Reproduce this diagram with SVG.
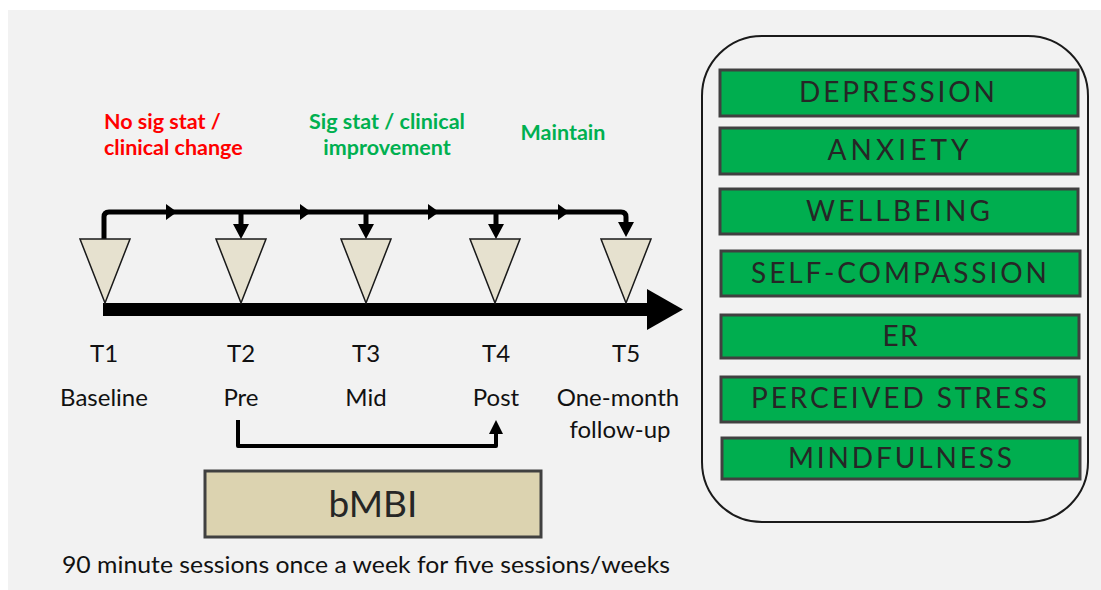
<svg xmlns="http://www.w3.org/2000/svg" width="1101" height="590" viewBox="0 0 1101 590">
  <style>
    .lbl { font-family: Lato, "Open Sans", "DejaVu Sans", sans-serif; fill: #111; font-size: 24px; text-anchor: middle; }
    .note { font-family: Lato, "Open Sans", "DejaVu Sans", sans-serif; font-weight: bold; font-size: 21.5px; }
    .tri { fill: #e6e1cf; stroke: #1a1a1a; stroke-width: 1.5; stroke-linejoin: miter; }
    .wire { fill: none; stroke: #000; stroke-linejoin: round; }
    .head { fill: #000; }
    .meas rect { fill: #00ae4f; stroke: #404040; stroke-width: 3; }
    .meas text { font-family: Lato, "Open Sans", "DejaVu Sans", sans-serif; font-size: 28px; fill: #262626; text-anchor: middle; }
  </style>

  <!-- page background -->
  <rect x="0" y="0" width="1101" height="590" fill="#ffffff"/>
  <rect x="8" y="10" width="1093" height="580" fill="#f2f2f2"/>

  <!-- outcome labels -->
  <g id="note-t1">
    <text class="note" fill="#ff0000" x="104" y="129">No sig stat /</text>
    <text class="note" fill="#ff0000" x="104" y="155">clinical change</text>
  </g>
  <g id="note-t3">
    <text class="note" fill="#00b050" x="387" y="129" text-anchor="middle">Sig stat / clinical</text>
    <text class="note" fill="#00b050" x="387" y="155" text-anchor="middle">improvement</text>
  </g>
  <g id="note-t5">
    <text class="note" fill="#00b050" x="563" y="140" text-anchor="middle">Maintain</text>
  </g>

  <!-- connectors -->
  <g id="connectors">
    <!-- top flow line between time points -->
    <path class="wire" stroke-width="5" d="M104 239 V217 Q104 212 109 212 H621 Q626 212 626 217 V226"/>
    <polygon class="head" points="166,204 177,212 166,220"/>
    <polygon class="head" points="300,204 311,212 300,220"/>
    <polygon class="head" points="428,204 439,212 428,220"/>
    <polygon class="head" points="558,204 569,212 558,220"/>
    <!-- drops into each time point -->
    <path class="wire" stroke-width="5" d="M241 212 V230 M366 212 V230 M496 212 V230"/>
    <polygon class="head" points="233,224 249,224 241,239"/>
    <polygon class="head" points="358,224 374,224 366,239"/>
    <polygon class="head" points="488,224 504,224 496,239"/>
    <polygon class="head" points="618,222 634,222 626,237"/>
    <!-- timeline axis -->
    <rect x="103" y="303" width="545" height="13" fill="#000"/>
    <polygon class="head" points="647,289 683,309.5 647,330"/>
    <!-- intervention span Pre to Post -->
    <path class="wire" stroke-width="4" d="M238 420 V446 H496 V432"/>
    <polygon class="head" points="489,434 503,434 496,420"/>
  </g>

  <!-- time points -->
  <g id="t1">
    <polygon class="tri" points="80,239 130,239 105,303"/>
    <text class="lbl" x="104" y="362">T1</text>
    <text class="lbl" x="104" y="406">Baseline</text>
  </g>
  <g id="t2">
    <polygon class="tri" points="216,239 266,239 241,303"/>
    <text class="lbl" x="241" y="362">T2</text>
    <text class="lbl" x="241" y="406">Pre</text>
  </g>
  <g id="t3">
    <polygon class="tri" points="341,239 391,239 366,303"/>
    <text class="lbl" x="366" y="362">T3</text>
    <text class="lbl" x="366" y="406">Mid</text>
  </g>
  <g id="t4">
    <polygon class="tri" points="470,239 520,239 495,303"/>
    <text class="lbl" x="496" y="362">T4</text>
    <text class="lbl" x="496" y="406">Post</text>
  </g>
  <g id="t5">
    <polygon class="tri" points="601,239 651,239 626,303"/>
    <text class="lbl" x="626" y="362">T5</text>
    <text class="lbl" x="618" y="406">One-month</text>
    <text class="lbl" x="620" y="438">follow-up</text>
  </g>

  <!-- intervention -->
  <g id="bmbi">
    <rect x="205" y="471" width="336" height="66" fill="#dcd3b0" stroke="#404040" stroke-width="3"/>
    <text class="lbl" x="373" y="517" style="font-size:37px; fill:#262626">bMBI</text>
  </g>
  <g id="sessions">
    <text class="lbl" x="366" y="573" textLength="608" lengthAdjust="spacingAndGlyphs">90 minute sessions once a week for five sessions/weeks</text>
  </g>

  <!-- outcome measures -->
  <g id="measures">
    <rect x="702" y="36" width="386" height="486" rx="60" ry="60" fill="none" stroke="#1a1a1a" stroke-width="2"/>
    <g id="m-depression" class="meas">
      <rect x="720" y="70" width="358" height="46"/>
      <text x="897" y="102" textLength="196" lengthAdjust="spacing">DEPRESSION</text>
    </g>
    <g id="m-anxiety" class="meas">
      <rect x="720" y="128" width="358" height="46"/>
      <text x="898" y="160" textLength="141" lengthAdjust="spacing">ANXIETY</text>
    </g>
    <g id="m-wellbeing" class="meas">
      <rect x="720" y="189" width="358" height="45"/>
      <text x="898" y="221" textLength="184" lengthAdjust="spacing">WELLBEING</text>
    </g>
    <g id="m-selfcompassion" class="meas">
      <rect x="721" y="251" width="359" height="45"/>
      <text x="899" y="283" textLength="296" lengthAdjust="spacing">SELF-COMPASSION</text>
    </g>
    <g id="m-er" class="meas">
      <rect x="721" y="315" width="358" height="43"/>
      <text x="900" y="346" textLength="35" lengthAdjust="spacing">ER</text>
    </g>
    <g id="m-stress" class="meas">
      <rect x="721" y="377" width="358" height="45"/>
      <text x="899" y="408" textLength="296" lengthAdjust="spacing">PERCEIVED STRESS</text>
    </g>
    <g id="m-mindfulness" class="meas">
      <rect x="722" y="438" width="358" height="41"/>
      <text x="900" y="468" textLength="224" lengthAdjust="spacing">MINDFULNESS</text>
    </g>
  </g>
</svg>
